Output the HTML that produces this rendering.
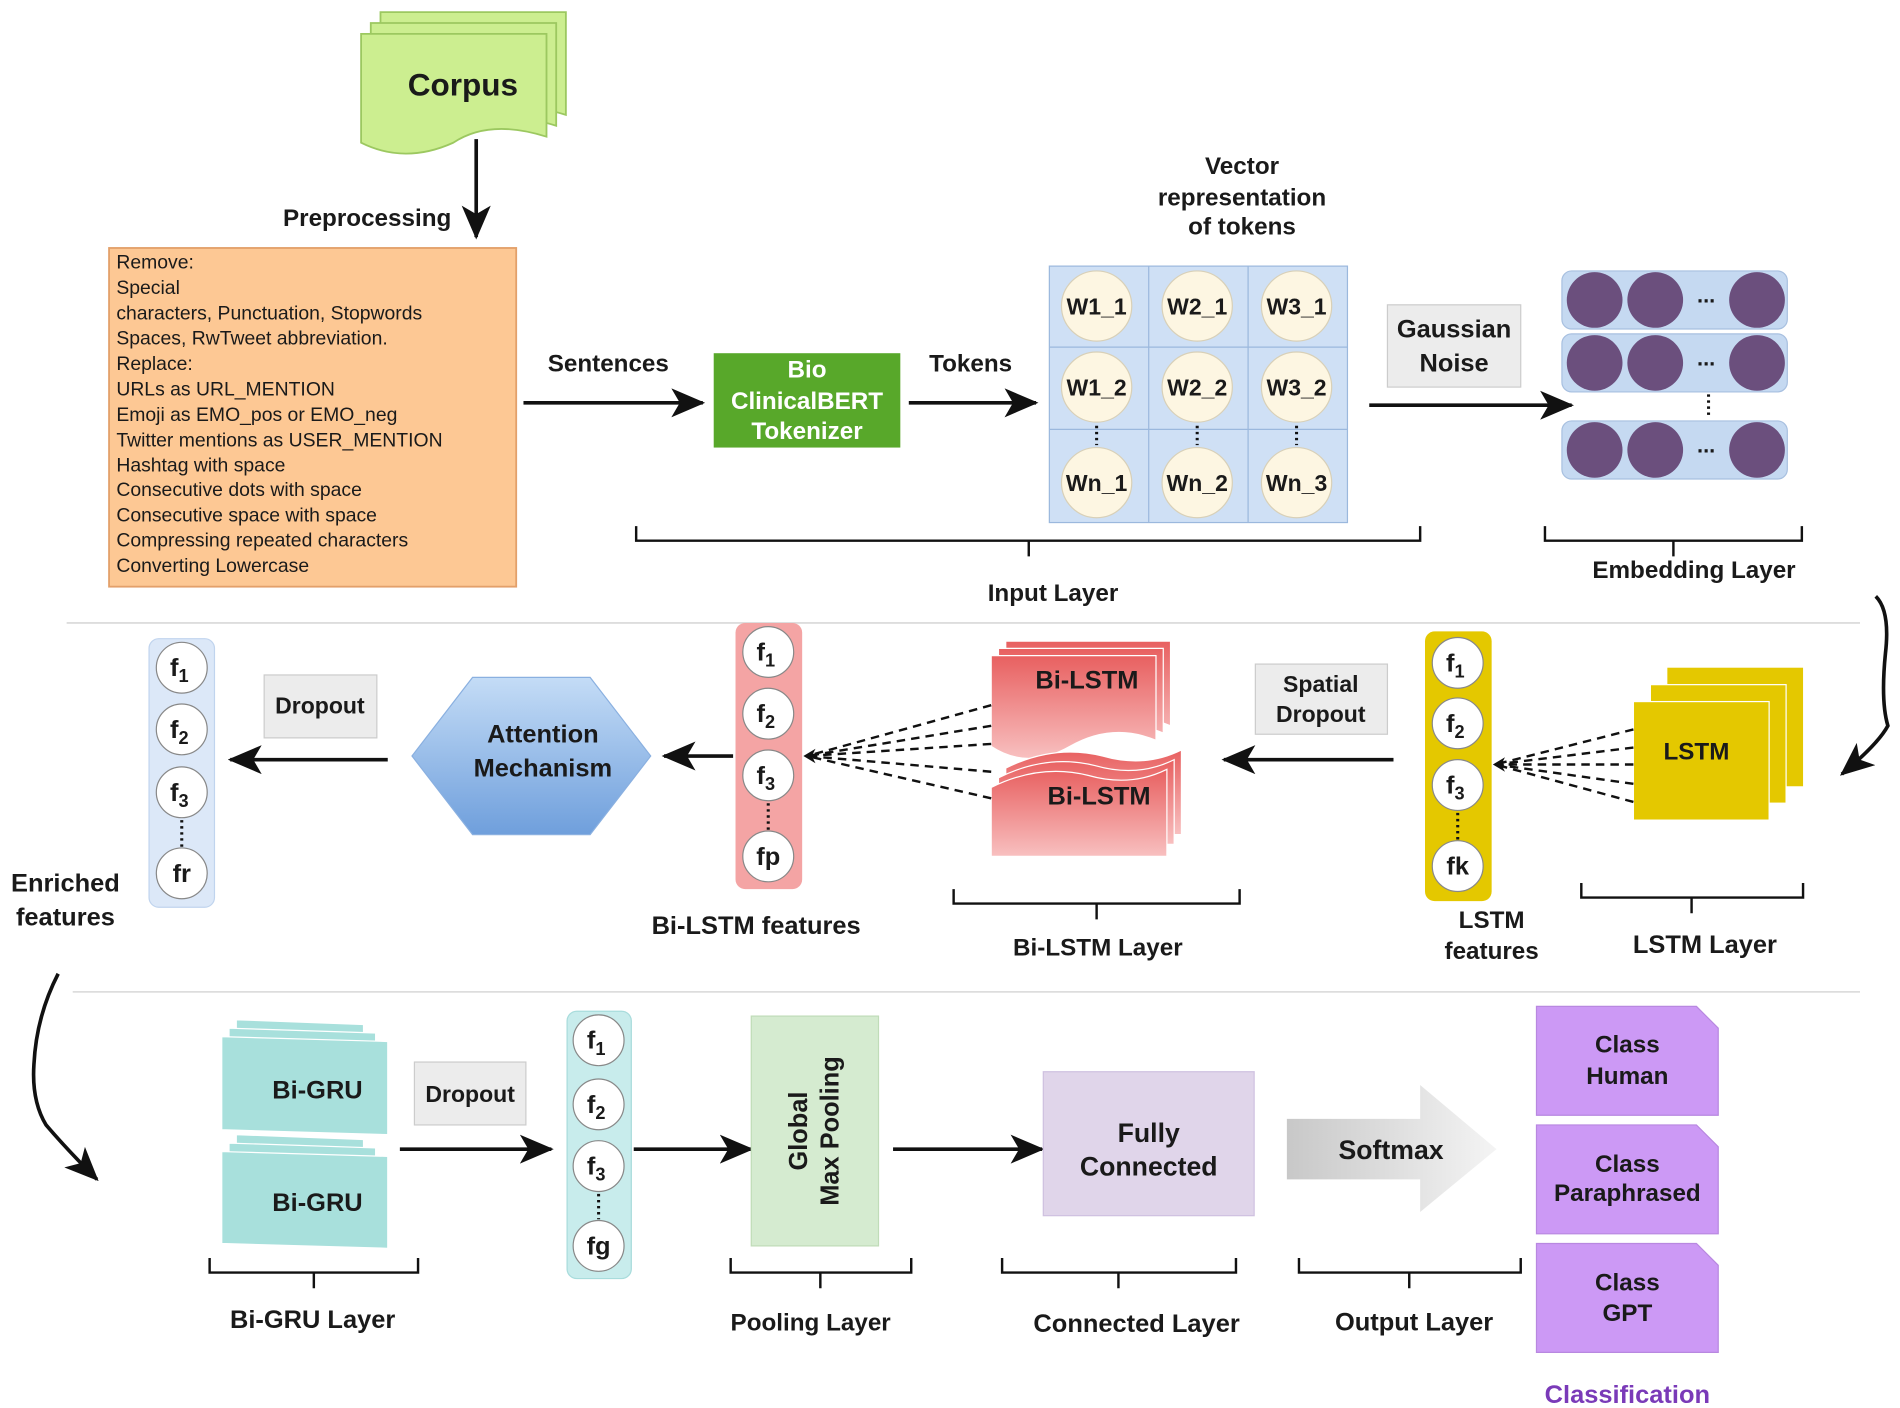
<!DOCTYPE html>
<html><head><meta charset="utf-8"><style>
html,body{margin:0;padding:0;background:#fff;}
svg{display:block;}
text{font-family:"Liberation Sans",Arial,sans-serif;font-weight:bold;fill:#1a1a1a;}
.n{font-weight:normal;}
</style></head><body>
<svg width="1900" height="1408" viewBox="0 0 1568 1164" preserveAspectRatio="none" xmlns="http://www.w3.org/2000/svg">
<defs>
<marker id="ar" markerWidth="10" markerHeight="10" refX="9" refY="5" orient="auto" markerUnits="userSpaceOnUse" viewBox="0 0 10 10"><path d="M0,0 L10,5 L0,10 L3,5 z" fill="#111"/></marker>
<marker id="ar2" markerWidth="28" markerHeight="24" refX="26" refY="12" orient="auto" markerUnits="userSpaceOnUse" viewBox="0 0 28 24"><path d="M0,0 L28,12 L0,24 L7,12 z" fill="#111"/></marker>
<linearGradient id="hex" x1="0" y1="0" x2="0" y2="1"><stop offset="0" stop-color="#c4dcf6"/><stop offset="1" stop-color="#6f9fdc"/></linearGradient>
<linearGradient id="red" x1="0" y1="0" x2="0" y2="1"><stop offset="0" stop-color="#e86060"/><stop offset="1" stop-color="#f8c0c0"/></linearGradient>
<linearGradient id="soft" x1="0" y1="0" x2="1" y2="0"><stop offset="0" stop-color="#c8c8c8"/><stop offset="1" stop-color="#f4f4f4"/></linearGradient>
</defs>
<g stroke="#111" stroke-width="3" fill="none">
</g>
<!-- Corpus -->
<g stroke="#9cc860" stroke-width="1.5" fill="#ccee90">
<path d="M314,10 H467 V95 Q420,80 390,100 Q350,118 314,100 Z"/>
<path d="M306,19 H459 V104 Q412,89 382,109 Q342,127 306,109 Z"/>
<path d="M298,28 H451 V113 Q404,98 374,118 Q334,136 298,118 Z"/>
</g>
<text x="382" y="79" font-size="26" text-anchor="middle">Corpus</text>
<line x1="393" y1="115" x2="393" y2="196" stroke="#111" stroke-width="3" marker-end="url(#ar2)"/>
<text x="303" y="187" font-size="20" text-anchor="middle">Preprocessing</text>
<!-- orange box -->
<rect x="90" y="205" width="336" height="280" fill="#fdc894" stroke="#e3a06a" stroke-width="1.5"/>
<g font-size="16" class="n">
<text class="n" x="96" y="222">Remove:</text>
<text class="n" x="96" y="243">Special</text>
<text class="n" x="96" y="264">characters, Punctuation, Stopwords</text>
<text class="n" x="96" y="285">Spaces, RwTweet abbreviation.</text>
<text class="n" x="96" y="306">Replace:</text>
<text class="n" x="96" y="327">URLs as URL_MENTION</text>
<text class="n" x="96" y="348">Emoji as EMO_pos or EMO_neg</text>
<text class="n" x="96" y="369">Twitter mentions  as USER_MENTION</text>
<text class="n" x="96" y="390">Hashtag with space</text>
<text class="n" x="96" y="410">Consecutive dots with space</text>
<text class="n" x="96" y="431">Consecutive space with space</text>
<text class="n" x="96" y="452">Compressing repeated characters</text>
<text class="n" x="96" y="473">Converting Lowercase</text>
</g>
<line x1="432" y1="333" x2="580" y2="333" stroke="#111" stroke-width="3" marker-end="url(#ar2)"/>
<text x="502" y="307" font-size="20" text-anchor="middle">Sentences</text>
<rect x="589" y="292" width="154" height="78" fill="#58a82a"/>
<g font-size="20" text-anchor="middle"><text x="666" y="312" style="fill:#fff">Bio</text><text x="666" y="338" style="fill:#fff">ClinicalBERT</text><text x="666" y="363" style="fill:#fff">Tokenizer</text></g>
<line x1="750" y1="333" x2="855" y2="333" stroke="#111" stroke-width="3" marker-end="url(#ar2)"/>
<text x="801" y="307" font-size="20" text-anchor="middle">Tokens</text>
<g font-size="20" text-anchor="middle"><text x="1025" y="144">Vector</text><text x="1025" y="170">representation</text><text x="1025" y="194">of tokens</text></g>
<!-- grid -->
<rect x="866" y="220" width="246" height="212" fill="#cfe0f5" stroke="#9bb8dd"/>
<g stroke="#9bb8dd"><line x1="948" y1="220" x2="948" y2="432"/><line x1="1030" y1="220" x2="1030" y2="432"/><line x1="866" y1="287" x2="1112" y2="287"/><line x1="866" y1="355" x2="1112" y2="355"/></g>
<g fill="#fdf6e2" stroke="#d8d0b8">
<circle cx="905" cy="253" r="29"/><circle cx="988" cy="253" r="29"/><circle cx="1070" cy="253" r="29"/>
<circle cx="905" cy="320" r="29"/><circle cx="988" cy="320" r="29"/><circle cx="1070" cy="320" r="29"/>
<circle cx="905" cy="399" r="29"/><circle cx="988" cy="399" r="29"/><circle cx="1070" cy="399" r="29"/>
</g>
<g font-size="19" text-anchor="middle">
<text x="905" y="260">W1_1</text><text x="988" y="260">W2_1</text><text x="1070" y="260">W3_1</text>
<text x="905" y="327">W1_2</text><text x="988" y="327">W2_2</text><text x="1070" y="327">W3_2</text>
<text x="905" y="406">Wn_1</text><text x="988" y="406">Wn_2</text><text x="1070" y="406">Wn_3</text>
</g>
<g stroke="#111" stroke-width="2.5" stroke-dasharray="2,3"><line x1="905" y1="352" x2="905" y2="368"/><line x1="988" y1="352" x2="988" y2="368"/><line x1="1070" y1="352" x2="1070" y2="368"/></g>
<!-- braces -->
<g stroke="#111" stroke-width="2" fill="none">
<path d="M525,435 V447 H1172 V435 M849,447 V460"/>
<path d="M1275,435 V447 H1487 V435 M1381,447 V460"/>
<path d="M1305,730 V742 H1488 V730 M1396,742 V755"/>
<path d="M787,735 V747 H1023 V735 M905,747 V760"/>
<path d="M173,1040 V1052 H345 V1040 M259,1052 V1065"/>
<path d="M603,1040 V1052 H752 V1040 M677,1052 V1065"/>
<path d="M827,1040 V1052 H1020 V1040 M923,1052 V1065"/>
<path d="M1072,1040 V1052 H1255 V1040 M1163,1052 V1065"/>
</g>
<text x="869" y="497" font-size="20" text-anchor="middle">Input Layer</text>
<rect x="1145" y="252" width="110" height="68" fill="#ececec" stroke="#ccc"/>
<g font-size="21" text-anchor="middle"><text x="1200" y="279">Gaussian</text><text x="1200" y="307">Noise</text></g>
<line x1="1130" y1="335" x2="1297" y2="335" stroke="#111" stroke-width="3" marker-end="url(#ar2)"/>
<!-- embedding -->
<g fill="#c5d9f1" stroke="#a8c0e0"><rect x="1289" y="224" width="186" height="48" rx="8"/><rect x="1289" y="276" width="186" height="48" rx="8"/><rect x="1289" y="348" width="186" height="48" rx="8"/></g>
<g fill="#6b4f7d"><circle cx="1316" cy="248" r="23"/><circle cx="1366" cy="248" r="23"/><circle cx="1450" cy="248" r="23"/>
<circle cx="1316" cy="300" r="23"/><circle cx="1366" cy="300" r="23"/><circle cx="1450" cy="300" r="23"/>
<circle cx="1316" cy="372" r="23"/><circle cx="1366" cy="372" r="23"/><circle cx="1450" cy="372" r="23"/></g>
<g font-size="18" text-anchor="middle"><text x="1408" y="250">...</text><text x="1408" y="302">...</text><text x="1408" y="374">...</text></g>
<line x1="1410" y1="326" x2="1410" y2="346" stroke="#111" stroke-width="2.5" stroke-dasharray="2,3"/>
<text x="1398" y="478" font-size="20" text-anchor="middle">Embedding Layer</text>
<line x1="55" y1="515" x2="1535" y2="515" stroke="#ddd" stroke-width="1.5"/>
<path d="M1548,493 Q1560,505 1556,540 Q1552,580 1558,600 Q1550,615 1520,640" stroke="#111" stroke-width="3" fill="none" marker-end="url(#ar2)"/>
<!-- LSTM -->
<g fill="#e4c800"><rect x="1376" y="552" width="112" height="98"/><rect x="1362" y="566" width="112" height="98" stroke="#fff" stroke-width="1"/><rect x="1348" y="580" width="112" height="98" stroke="#fff" stroke-width="1"/></g>
<text x="1400" y="628" font-size="20" text-anchor="middle">LSTM</text>
<g stroke="#111" stroke-width="2" stroke-dasharray="7,5"><line x1="1348" y1="603" x2="1234" y2="632"/><line x1="1348" y1="618" x2="1234" y2="632"/><line x1="1348" y1="632" x2="1234" y2="632"/><line x1="1348" y1="648" x2="1234" y2="632"/><line x1="1348" y1="663" x2="1234" y2="632"/></g>
<path d="M1232,632 l10,-6 l-3,6 l3,6 z" fill="#111"/>
<rect x="1176" y="522" width="55" height="223" rx="8" fill="#e4c800"/>
<g fill="#fff" stroke="#888"><circle cx="1203" cy="548" r="21"/><circle cx="1203" cy="598" r="21"/><circle cx="1203" cy="649" r="21"/><circle cx="1203" cy="716" r="21"/></g>
<g font-size="21" text-anchor="middle"><text x="1201" y="555">f<tspan font-size="15" dy="5">1</tspan></text><text x="1201" y="605">f<tspan font-size="15" dy="5">2</tspan></text><text x="1201" y="656">f<tspan font-size="15" dy="5">3</tspan></text><text x="1203" y="723">fk</text></g>
<line x1="1203" y1="672" x2="1203" y2="694" stroke="#111" stroke-width="2.5" stroke-dasharray="2,3"/>
<g font-size="20" text-anchor="middle"><text x="1231" y="767">LSTM</text><text x="1231" y="793">features</text></g>
<text x="1407" y="788" font-size="21" text-anchor="middle">LSTM Layer</text>
<rect x="1036" y="549" width="109" height="58" fill="#ececec" stroke="#ccc"/>
<g font-size="19" text-anchor="middle"><text x="1090" y="572">Spatial</text><text x="1090" y="597">Dropout</text></g>
<line x1="1150" y1="628" x2="1010" y2="628" stroke="#111" stroke-width="3" marker-end="url(#ar2)"/>
<!-- Bi-LSTM -->
<g fill="url(#red)" stroke="#fff" stroke-width="1">
<path d="M830,530 H966 V600 Q930,585 895,605 Q860,625 830,605 Z"/>
<path d="M824,536 H960 V606 Q924,591 889,611 Q854,631 824,611 Z"/>
<path d="M818,542 H954 V612 Q918,597 883,617 Q848,637 818,617 Z"/>
<path d="M830,635 Q870,615 910,625 Q945,635 975,620 V690 H830 Z"/>
<path d="M824,643 Q864,623 904,633 Q939,643 969,628 V698 H824 Z"/>
<path d="M818,651 Q858,631 898,641 Q933,651 963,636 V708 H818 Z"/>
</g>
<text x="897" y="569" font-size="21" text-anchor="middle">Bi-LSTM</text>
<text x="907" y="665" font-size="21" text-anchor="middle">Bi-LSTM</text>
<g stroke="#111" stroke-width="2" stroke-dasharray="7,5"><line x1="818" y1="583" x2="666" y2="625"/><line x1="818" y1="600" x2="666" y2="625"/><line x1="818" y1="615" x2="666" y2="625"/><line x1="818" y1="638" x2="666" y2="625"/><line x1="818" y1="660" x2="666" y2="625"/></g>
<path d="M663,625 l10,-6 l-3,6 l3,6 z" fill="#111"/>
<rect x="607" y="515" width="55" height="220" rx="8" fill="#f4a4a4"/>
<g fill="#fff" stroke="#888"><circle cx="634" cy="539" r="21"/><circle cx="634" cy="590" r="21"/><circle cx="634" cy="641" r="21"/><circle cx="634" cy="708" r="21"/></g>
<g font-size="21" text-anchor="middle"><text x="632" y="546">f<tspan font-size="15" dy="5">1</tspan></text><text x="632" y="597">f<tspan font-size="15" dy="5">2</tspan></text><text x="632" y="648">f<tspan font-size="15" dy="5">3</tspan></text><text x="634" y="715">fp</text></g>
<line x1="634" y1="664" x2="634" y2="686" stroke="#111" stroke-width="2.5" stroke-dasharray="2,3"/>
<text x="624" y="772" font-size="21" text-anchor="middle">Bi-LSTM features</text>
<text x="906" y="790" font-size="20" text-anchor="middle">Bi-LSTM Layer</text>
<line x1="605" y1="625" x2="548" y2="625" stroke="#111" stroke-width="3" marker-end="url(#ar2)"/>
<path d="M340,625 L390,560 H487 L537,625 L487,690 H390 Z" fill="url(#hex)" stroke="#8ab0e0"/>
<g font-size="21" text-anchor="middle"><text x="448" y="614">Attention</text><text x="448" y="642">Mechanism</text></g>
<rect x="218" y="558" width="93" height="52" fill="#ececec" stroke="#ccc"/>
<text x="264" y="590" font-size="19" text-anchor="middle">Dropout</text>
<line x1="320" y1="628" x2="190" y2="628" stroke="#111" stroke-width="3" marker-end="url(#ar2)"/>
<rect x="123" y="528" width="54" height="222" rx="8" fill="#dce8f8" stroke="#c0d4ee"/>
<g fill="#fff" stroke="#888"><circle cx="150" cy="552" r="21"/><circle cx="150" cy="603" r="21"/><circle cx="150" cy="655" r="21"/><circle cx="150" cy="722" r="21"/></g>
<g font-size="21" text-anchor="middle"><text x="148" y="559">f<tspan font-size="15" dy="5">1</tspan></text><text x="148" y="610">f<tspan font-size="15" dy="5">2</tspan></text><text x="148" y="662">f<tspan font-size="15" dy="5">3</tspan></text><text x="150" y="729">fr</text></g>
<line x1="150" y1="678" x2="150" y2="700" stroke="#111" stroke-width="2.5" stroke-dasharray="2,3"/>
<g font-size="21" text-anchor="middle"><text x="54" y="737">Enriched</text><text x="54" y="765">features</text></g>
<line x1="60" y1="820" x2="1535" y2="820" stroke="#ddd" stroke-width="1.5"/>
<path d="M48,805 Q30,840 28,880 Q26,910 38,930 Q55,950 80,975" stroke="#111" stroke-width="3" fill="none" marker-end="url(#ar2)"/>
<!-- Bi-GRU -->
<g fill="#a8e0dc" stroke="#fff" stroke-width="1">
<path d="M195,843 L300,847 V925 L195,921 Z"/><path d="M189,850 L310,854 V932 L189,928 Z"/><path d="M183,857 L320,861 V938 L183,934 Z"/>
<path d="M195,938 L300,942 V1018 L195,1014 Z"/><path d="M189,945 L310,949 V1025 L189,1021 Z"/><path d="M183,952 L320,956 V1032 L183,1028 Z"/>
</g>
<text x="262" y="908" font-size="21" text-anchor="middle">Bi-GRU</text>
<text x="262" y="1001" font-size="21" text-anchor="middle">Bi-GRU</text>
<text x="258" y="1098" font-size="21" text-anchor="middle">Bi-GRU Layer</text>
<rect x="342" y="878" width="92" height="52" fill="#ececec" stroke="#ccc"/>
<text x="388" y="911" font-size="19" text-anchor="middle">Dropout</text>
<line x1="330" y1="950" x2="455" y2="950" stroke="#111" stroke-width="3" marker-end="url(#ar2)"/>
<rect x="468" y="836" width="53" height="221" rx="8" fill="#c8ecec" stroke="#a8dcdc"/>
<g fill="#fff" stroke="#888"><circle cx="494" cy="860" r="21"/><circle cx="494" cy="913" r="21"/><circle cx="494" cy="964" r="21"/><circle cx="494" cy="1030" r="21"/></g>
<g font-size="21" text-anchor="middle"><text x="492" y="867">f<tspan font-size="15" dy="5">1</tspan></text><text x="492" y="920">f<tspan font-size="15" dy="5">2</tspan></text><text x="492" y="971">f<tspan font-size="15" dy="5">3</tspan></text><text x="494" y="1037">fg</text></g>
<line x1="494" y1="987" x2="494" y2="1008" stroke="#111" stroke-width="2.5" stroke-dasharray="2,3"/>
<line x1="523" y1="950" x2="620" y2="950" stroke="#111" stroke-width="3" marker-end="url(#ar2)"/>
<rect x="620" y="840" width="105" height="190" fill="#d5ebd0" stroke="#c0dcb8"/>
<g font-size="21" text-anchor="middle" transform="translate(672,935) rotate(-90)"><text x="0" y="-6">Global</text><text x="0" y="20">Max Pooling</text></g>
<text x="669" y="1100" font-size="20" text-anchor="middle">Pooling Layer</text>
<line x1="737" y1="950" x2="860" y2="950" stroke="#111" stroke-width="3" marker-end="url(#ar2)"/>
<rect x="861" y="886" width="174" height="119" fill="#e0d5ea" stroke="#cfc0e0"/>
<g font-size="22" text-anchor="middle"><text x="948" y="944">Fully</text><text x="948" y="972">Connected</text></g>
<text x="938" y="1101" font-size="21" text-anchor="middle">Connected Layer</text>
<path d="M1062,925 H1172 V897 L1235,950 L1172,1002 V975 H1062 Z" fill="url(#soft)"/>
<text x="1148" y="958" font-size="22" text-anchor="middle">Softmax</text>
<text x="1167" y="1100" font-size="21" text-anchor="middle">Output Layer</text>
<g fill="#cc99f5" stroke="#b888e0">
<path d="M1268,832 H1400 L1418,850 V922 H1268 Z"/><path d="M1268,930 H1400 L1418,948 V1020 H1268 Z"/><path d="M1268,1028 H1400 L1418,1046 V1118 H1268 Z"/>
</g>
<g font-size="20" text-anchor="middle">
<text x="1343" y="870">Class</text><text x="1343" y="896">Human</text>
<text x="1343" y="969">Class</text><text x="1343" y="993">Paraphrased</text>
<text x="1343" y="1067">Class</text><text x="1343" y="1092">GPT</text>
</g>
<text x="1343" y="1160" font-size="21" text-anchor="middle" style="fill:#7a3ab8">Classification</text>
</svg>
</body></html>
